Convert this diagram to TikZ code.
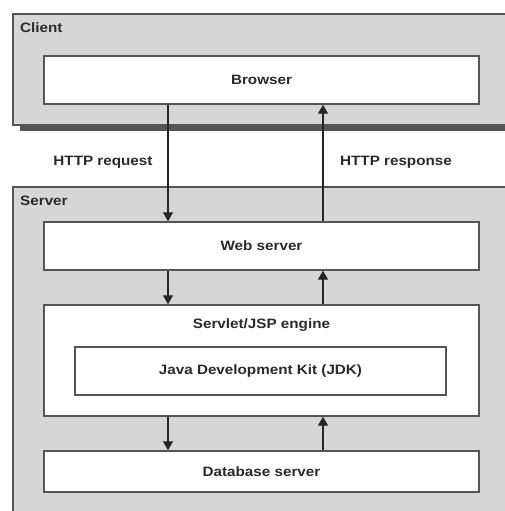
\documentclass[tikz,border=0pt]{standalone}
\usepackage{fontspec}
\newfontfamily\lblfont{Liberation Sans}[FakeStretch=1.12]
\usetikzlibrary{arrows.meta}
\definecolor{areagray}{HTML}{D6D6D6}
\definecolor{edgegray}{HTML}{555555}
\definecolor{textgray}{HTML}{2A2A2A}
\begin{document}
\begin{tikzpicture}[x=1pt,y=-1pt,
  lbl/.style={font=\lblfont\bfseries\fontsize{13.6}{16}\selectfont, text=textgray, inner sep=0pt},
  area/.style={fill=areagray, draw=edgegray, line width=1.6pt},
  box/.style={draw=edgegray, fill=white, line width=1.4pt, rectangle, inner sep=0pt},
  arr/.style={draw=black!85, line width=1.3pt, -{Triangle[width=10pt,length=9pt]}},
  ln/.style={draw=black!85, line width=1.3pt}]
\useasboundingbox (0,0) rectangle (505,511);
\fill[white] (0,0) rectangle (505,511);
\begin{scope}
\clip (0,0) rectangle (505,511);
% client area
\fill[edgegray] (20,125) rectangle (520,130.5);
\draw[area] (13,14) rectangle (520,125);
% server area
\draw[area] (13,187) rectangle (520,540);
\end{scope}
\node[lbl, anchor=west] (clientlbl) at (20,28) {Client};
\node[lbl, anchor=west] (serverlbl) at (20,201) {Server};

\node[box, minimum width=435pt, minimum height=48pt] (browser) at (261.5,80) {};
\node[lbl] (browsertxt) at (browser) {Browser};
\node[box, minimum width=435pt, minimum height=48pt] (web) at (261.5,246) {};
\node[lbl] (webtxt) at (web) {Web server};
\node[box, minimum width=435pt, minimum height=111pt] (engine) at (261.5,360.5) {};
\node[lbl] (enginetxt) at (261.5,325) {Servlet/JSP engine};
\node[box, minimum width=371pt, minimum height=48pt] (jdk) at (260.5,371) {};
\node[lbl] (jdktxt) at (jdk) {Java Development Kit (JDK)};
\node[box, minimum width=435pt, minimum height=41pt] (db) at (261.5,471.5) {};
\node[lbl] (dbtxt) at (db) {Database server};

\node[lbl] (req) at (103,162) {HTTP request};
\node[lbl] (resp) at (396,162) {HTTP response};

\coordinate (dl) at (168,0);
\coordinate (ul) at (323,0);
\draw[arr] (browser.south -| dl) -- (web.north -| dl);
\draw[arr] (web.north -| ul) -- (browser.south -| ul);
\draw[arr] (web.south -| dl) -- (engine.north -| dl);
\draw[arr] (engine.north -| ul) -- (web.south -| ul);
\draw[arr] (engine.south -| dl) -- (db.north -| dl);
\draw[arr] (db.north -| ul) -- (engine.south -| ul);
\end{tikzpicture}
\end{document}
